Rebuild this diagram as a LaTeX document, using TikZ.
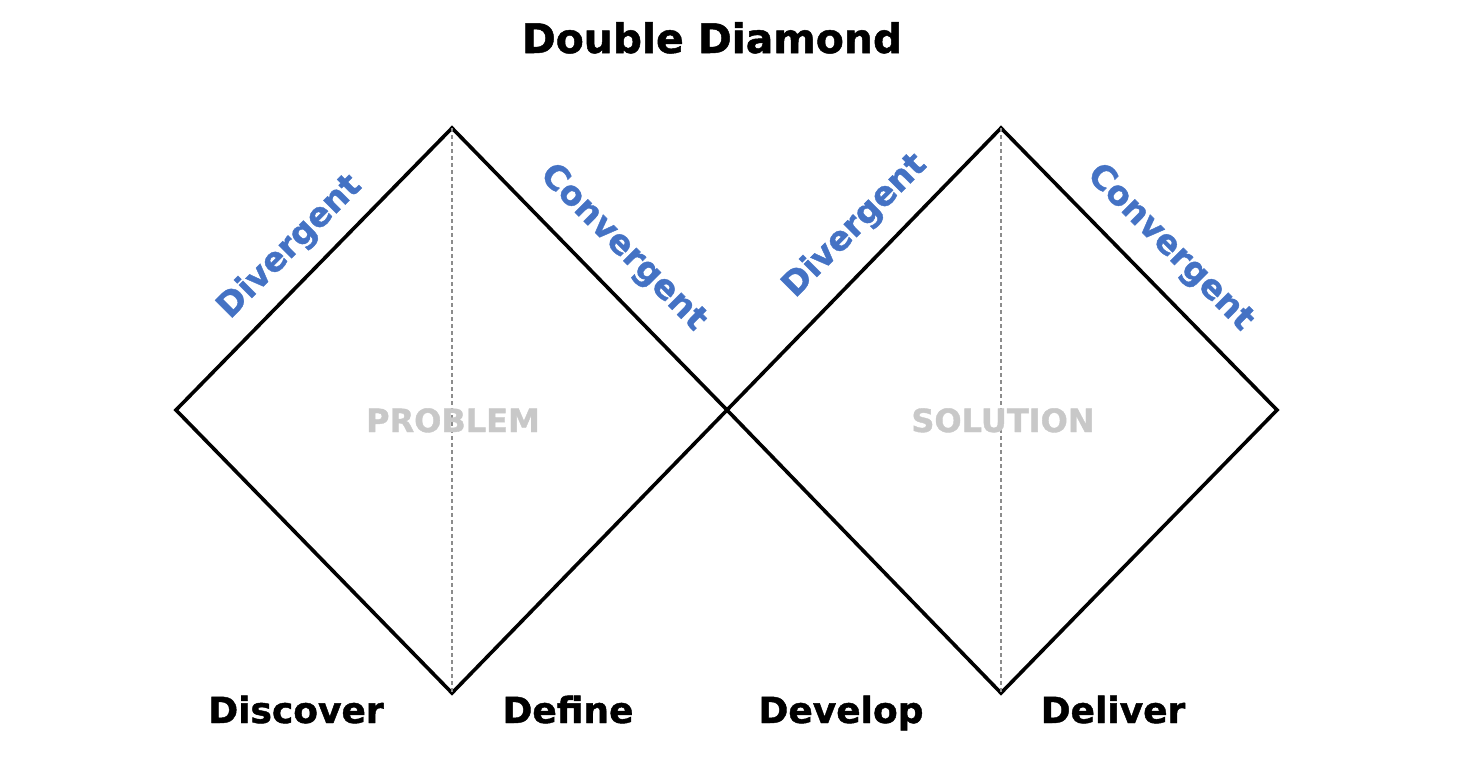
\documentclass[tikz,border=0pt]{standalone}
\usepackage{fontspec}
\setmainfont[BoldFeatures={FakeBold=1.2}]{DejaVu Sans}
\definecolor{phaseblue}{RGB}{68,114,196}
\definecolor{labelgray}{RGB}{200,200,200}
\begin{document}
\begin{tikzpicture}[x=0.5pt,y=-0.5pt,
  diamondline/.style={line width=1.8pt,line join=miter,black},
  midline/.style={line width=0.8pt,gray!90,dash pattern=on 2pt off 1.5pt},
  phaselabel/.style={font=\fontsize{16.8}{18}\selectfont\bfseries,text=phaseblue,inner sep=0pt},
  spacelabel/.style={font=\fontsize{16}{18}\selectfont\bfseries,text=labelgray,inner sep=0pt,anchor=base},
  steplabel/.style={font=\fontsize{18}{20}\selectfont\bfseries,inner sep=0pt,anchor=base},
  titlelabel/.style={font=\fontsize{20.4}{23}\selectfont\bfseries,inner sep=0pt,anchor=base}]
\useasboundingbox (0,0) rectangle (1460,768);
% vertices
\coordinate (t1) at (452,128);
\coordinate (l1) at (176,410);
\coordinate (b1) at (452,693);
\coordinate (m) at (727,410);
\coordinate (t2) at (1001,128);
\coordinate (r2) at (1277,410);
\coordinate (b2) at (1001,693);
% diamonds
\draw[diamondline] (l1) -- (t1) -- (m) -- (b1) -- cycle;
\draw[diamondline] (m) -- (t2) -- (r2) -- (b2) -- cycle;
% dashed middle lines
\draw[midline] (t1) -- (b1);
\draw[midline] (t2) -- (b2);
% title
\node[titlelabel] (title) at (712,53) {Double Diamond};
% phase labels
\node[phaselabel,rotate=45] (div1) at (290,247) {Divergent};
\node[phaselabel,rotate=-45] (con1) at (623,248) {Convergent};
\node[phaselabel,rotate=45] (div2) at (855,226) {Divergent};
\node[phaselabel,rotate=-45] (con2) at (1170,248) {Convergent};
% space labels
\node[spacelabel] (prob) at (453,432) {PROBLEM};
\node[spacelabel] (sol) at (1003,432) {SOLUTION};
% step labels
\node[steplabel] (disc) at (296,723) {Discover};
\node[steplabel] (def) at (568,723) {Define};
\node[steplabel] (dev) at (841,723) {Develop};
\node[steplabel] (del) at (1113,723) {Deliver};
\end{tikzpicture}
\end{document}
